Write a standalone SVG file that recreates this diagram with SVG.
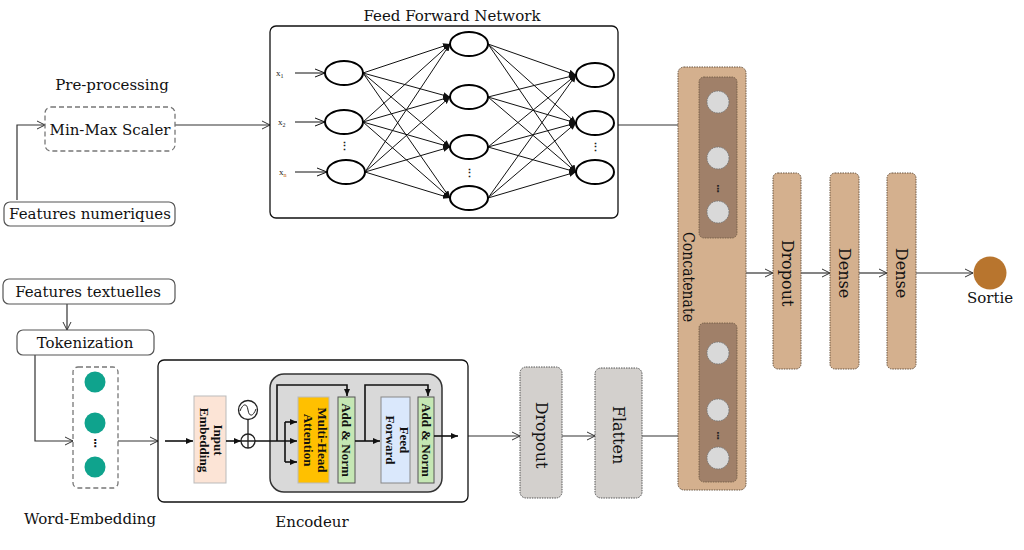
<svg xmlns="http://www.w3.org/2000/svg" width="1024" height="550" viewBox="0 0 1024 550">
<style>
.t{font-family:"DejaVu Serif","Liberation Serif",serif;fill:#111;}
.lbl{font-size:15px;}
.bx{fill:#fff;stroke:#555;stroke-width:1.2;}
.dash{fill:#fff;stroke:#777;stroke-width:1.3;stroke-dasharray:5 3;}
.ln{fill:none;stroke:#333;stroke-width:1.2;}
.nn{fill:none;stroke:#111;stroke-width:1;}
.neu{fill:#fff;stroke:#000;stroke-width:2;}
.bold{font-family:"Liberation Serif","Times New Roman",serif;font-weight:bold;font-size:13px;fill:#111;}
.tan{fill:#D4B08E;stroke:#6a5540;stroke-width:1;stroke-dasharray:1.5 1;}
.gray{fill:#D3D0CD;stroke:#555;stroke-width:1;stroke-dasharray:1.5 1;}
.inner{fill:#A08069;stroke:#6a5540;stroke-width:0.8;stroke-dasharray:1.5 1;}
.gc{fill:#D9D9D9;stroke:#777;stroke-width:1;stroke-dasharray:1.5 1;}
.teal{fill:#0FA38D;}
.enc{stroke:#111;stroke-width:1.6;fill:none;}
</style>
<defs>
<marker id="open" markerWidth="10" markerHeight="10" refX="9" refY="5" orient="auto" markerUnits="userSpaceOnUse">
<path d="M1,1 L9,5 L1,9" fill="none" stroke="#333" stroke-width="1"/>
</marker>
<marker id="fill" markerWidth="8" markerHeight="8" refX="7" refY="4" orient="auto" markerUnits="userSpaceOnUse">
<path d="M0,1 L7,4 L0,7 Z" fill="#111"/>
</marker>
<marker id="nnopen" markerWidth="12" markerHeight="10" refX="11" refY="5" orient="auto" markerUnits="userSpaceOnUse">
<path d="M1,1 L11,5 L1,9" fill="none" stroke="#111" stroke-width="1"/>
</marker>
</defs>
<rect width="1024" height="550" fill="#fff"/>

<g id="connectors">
<path class="ln" d="M17,200 V125 H45" marker-end="url(#open)"/>
<path class="ln" d="M175,125 H270" marker-end="url(#open)"/>
<path class="ln" d="M618,125 H699" marker-end="url(#open)"/>
<path class="ln" d="M67,304 V330" marker-end="url(#open)"/>
<path class="ln" d="M35,355 V441 H73" marker-end="url(#open)"/>
<path class="ln" d="M118,441 H158" marker-end="url(#open)"/>
<path class="ln" d="M468,436 H520" marker-end="url(#open)"/>
<path class="ln" d="M562,436 H595" marker-end="url(#open)"/>
<path class="ln" d="M642,436 H699" marker-end="url(#open)"/>
<path class="ln" d="M746,273 H773" marker-end="url(#open)"/>
<path class="ln" d="M801,273 H830" marker-end="url(#open)"/>
<path class="ln" d="M859,273 H887" marker-end="url(#open)"/>
<path class="ln" d="M916,273 H973" marker-end="url(#open)"/>
</g>

<g id="preprocessing">
<text class="t lbl" x="112" y="90" text-anchor="middle">Pre-processing</text>
<rect class="dash" x="45" y="107" width="130" height="44" rx="6"/>
<text class="t lbl" x="110" y="130" text-anchor="middle" dominant-baseline="central">Min-Max Scaler</text>
</g>

<g id="features-numeriques">
<rect class="bx" x="4" y="202" width="171" height="24" rx="6"/>
<text class="t lbl" x="90" y="214" text-anchor="middle" dominant-baseline="central">Features numeriques</text>
</g>

<g id="ffn">
<text class="t lbl" x="452" y="21" text-anchor="middle">Feed Forward Network</text>
<rect x="270" y="26" width="348" height="192" rx="6" fill="#fff" stroke="#111" stroke-width="1.3"/>
<g class="nn">
<path d="M295,73 H325" marker-end="url(#nnopen)"/>
<path d="M295,122 H325" marker-end="url(#nnopen)"/>
<path d="M295,172 H327" marker-end="url(#nnopen)"/>
<path d="M363,73 L450,44" marker-end="url(#fill)"/>
<path d="M363,73 L450,97" marker-end="url(#fill)"/>
<path d="M363,73 L450,147" marker-end="url(#fill)"/>
<path d="M363,73 L450,198" marker-end="url(#fill)"/>
<path d="M363,122 L450,44" marker-end="url(#fill)"/>
<path d="M363,122 L450,97" marker-end="url(#fill)"/>
<path d="M363,122 L450,147" marker-end="url(#fill)"/>
<path d="M363,122 L450,198" marker-end="url(#fill)"/>
<path d="M365,172 L450,44" marker-end="url(#fill)"/>
<path d="M365,172 L450,97" marker-end="url(#fill)"/>
<path d="M365,172 L450,147" marker-end="url(#fill)"/>
<path d="M365,172 L450,198" marker-end="url(#fill)"/>
<path d="M488,44 L576,75" marker-end="url(#fill)"/>
<path d="M488,44 L576,123" marker-end="url(#fill)"/>
<path d="M488,44 L576,172" marker-end="url(#fill)"/>
<path d="M488,97 L576,75" marker-end="url(#fill)"/>
<path d="M488,97 L576,123" marker-end="url(#fill)"/>
<path d="M488,97 L576,172" marker-end="url(#fill)"/>
<path d="M488,147 L576,75" marker-end="url(#fill)"/>
<path d="M488,147 L576,123" marker-end="url(#fill)"/>
<path d="M488,147 L576,172" marker-end="url(#fill)"/>
<path d="M488,198 L576,75" marker-end="url(#fill)"/>
<path d="M488,198 L576,123" marker-end="url(#fill)"/>
<path d="M488,198 L576,172" marker-end="url(#fill)"/>
</g>
<ellipse class="neu" cx="344" cy="73" rx="19" ry="12"/>
<ellipse class="neu" cx="344" cy="122" rx="19" ry="12"/>
<ellipse class="neu" cx="346" cy="172" rx="19" ry="12"/>
<ellipse class="neu" cx="469" cy="44" rx="19" ry="12"/>
<ellipse class="neu" cx="469" cy="97" rx="19" ry="12"/>
<ellipse class="neu" cx="469" cy="147" rx="19" ry="12"/>
<ellipse class="neu" cx="469" cy="198" rx="19" ry="12"/>
<ellipse class="neu" cx="595" cy="75" rx="19" ry="12"/>
<ellipse class="neu" cx="595" cy="123" rx="19" ry="12"/>
<ellipse class="neu" cx="595" cy="172" rx="19" ry="12"/>
<g font-family="Liberation Serif,serif" font-size="9" fill="#222">
<text x="276" y="76">x<tspan font-size="6" dy="2">1</tspan></text>
<text x="278" y="125">x<tspan font-size="6" dy="2">2</tspan></text>
<text x="279" y="175">x<tspan font-size="6" dy="2" fill="#c06000">n</tspan></text>
<text x="344" y="150" text-anchor="middle" font-size="11" font-weight="bold">⋮</text>
<text x="469" y="177" text-anchor="middle" font-size="11" font-weight="bold">⋮</text>
<text x="595" y="151" text-anchor="middle" font-size="11" font-weight="bold">⋮</text>
</g>
</g>

<g id="features-textuelles">
<rect class="bx" x="3" y="279" width="172" height="25" rx="6"/>
<text class="t lbl" x="88" y="291.5" text-anchor="middle" dominant-baseline="central">Features textuelles</text>
</g>

<g id="tokenization">
<rect class="bx" x="17" y="330" width="137" height="25" rx="6"/>
<text class="t lbl" x="85" y="342.5" text-anchor="middle" dominant-baseline="central">Tokenization</text>
</g>

<g id="word-embedding">
<rect class="dash" x="73" y="367" width="45" height="121" rx="5"/>
<circle class="teal" cx="95" cy="382" r="10.5"/>
<circle class="teal" cx="95" cy="423" r="10.5"/>
<circle class="teal" cx="95" cy="467" r="10.5"/>
<text x="95" y="447" text-anchor="middle" font-family="DejaVu Sans,sans-serif" font-size="11" font-weight="bold" fill="#111">⋮</text>
<text class="t lbl" x="90" y="524" text-anchor="middle">Word-Embedding</text>
</g>

<g id="encodeur">
<rect x="158" y="360" width="310" height="142" rx="6" fill="#fff" stroke="#111" stroke-width="1.3"/>
<text class="t lbl" x="312" y="527" text-anchor="middle">Encodeur</text>
<rect x="270" y="374" width="172" height="118" rx="14" fill="#D9D9D9" stroke="#333" stroke-width="1.5"/>
<path class="enc" d="M165,441 H193" marker-end="url(#fill)"/>
<rect x="194" y="396" width="32" height="87" fill="#FCE4D6" stroke="#bbb" stroke-width="1"/>
<text class="bold" transform="translate(210,440) rotate(90)" text-anchor="middle"><tspan x="0" y="-4">Input</tspan><tspan x="0" y="10">Embedding</tspan></text>
<path class="enc" d="M226,441 H241" marker-end="url(#fill)"/>
<circle cx="248" cy="410" r="9.5" fill="#fff" stroke="#222" stroke-width="1.3"/>
<path d="M240,411 C243,403 247,403 248,410 C249,417 253,417 256,409" fill="none" stroke="#222" stroke-width="1"/>
<path d="M248,419.5 V434" stroke="#222" stroke-width="1.3"/>
<circle cx="248" cy="441" r="7" fill="#fff" stroke="#222" stroke-width="1.3"/>
<path d="M241,441 H255 M248,434 V448" stroke="#222" stroke-width="1.3"/>
<path class="enc" d="M255,441 H297" marker-end="url(#fill)"/>
<path class="enc" d="M285,422 V462"/>
<path class="enc" d="M285,422 H297" marker-end="url(#fill)"/>
<path class="enc" d="M285,462 H297" marker-end="url(#fill)"/>
<path class="enc" d="M277,441 V385 H347 V396" marker-end="url(#fill)"/>
<rect x="298" y="397" width="31" height="86" fill="#FFC000" stroke="#bbb" stroke-width="1"/>
<text class="bold" transform="translate(313.5,440) rotate(90)" text-anchor="middle"><tspan x="0" y="-4">Multi-Head</tspan><tspan x="0" y="10">Attention</tspan></text>
<rect x="338" y="397" width="17" height="86" fill="#C5E7B4" stroke="#555" stroke-width="1"/>
<text class="bold" transform="translate(346.5,440) rotate(90)" text-anchor="middle" dominant-baseline="central">Add &amp; Norm</text>
<path class="enc" d="M355,441 H380" marker-end="url(#fill)"/>
<path class="enc" d="M365,441 V385 H428 V396" marker-end="url(#fill)"/>
<rect x="381" y="397" width="29" height="86" fill="#DAE8FC" stroke="#888" stroke-width="1"/>
<text class="bold" transform="translate(395.5,440) rotate(90)" text-anchor="middle"><tspan x="0" y="-4">Feed</tspan><tspan x="0" y="10">Forward</tspan></text>
<rect x="418" y="397" width="16" height="86" fill="#C5E7B4" stroke="#555" stroke-width="1"/>
<text class="bold" transform="translate(426,440) rotate(90)" text-anchor="middle" dominant-baseline="central">Add &amp; Norm</text>
<path class="enc" d="M434,436 H458" marker-end="url(#fill)"/>
</g>

<g id="dropout1">
<rect class="gray" x="520" y="367" width="42" height="131" rx="6"/>
<text class="t" font-size="16" transform="translate(541,435) rotate(90)" text-anchor="middle" dominant-baseline="central">Dropout</text>
</g>

<g id="flatten">
<rect class="gray" x="595" y="368" width="47" height="130" rx="6"/>
<text class="t" font-size="16" transform="translate(618.5,435) rotate(90)" text-anchor="middle" dominant-baseline="central">Flatten</text>
</g>

<g id="concatenate">
<rect class="tan" x="678" y="67" width="68" height="423" rx="6"/>
<rect class="inner" x="699" y="77" width="38" height="161" rx="5"/>
<circle class="gc" cx="718" cy="102" r="11"/>
<circle class="gc" cx="718" cy="158" r="11"/>
<circle class="gc" cx="718" cy="212" r="11"/>
<text x="718" y="192" text-anchor="middle" font-family="DejaVu Sans,sans-serif" font-size="10" font-weight="bold" fill="#222">⋮</text>
<rect class="inner" x="699" y="323" width="38" height="159" rx="5"/>
<circle class="gc" cx="718" cy="353" r="11"/>
<circle class="gc" cx="718" cy="410" r="11"/>
<circle class="gc" cx="718" cy="458" r="11"/>
<text x="718" y="439" text-anchor="middle" font-family="DejaVu Sans,sans-serif" font-size="10" font-weight="bold" fill="#222">⋮</text>
<text class="t" font-size="16" transform="translate(688,277) rotate(90)" text-anchor="middle" dominant-baseline="central" textLength="90" lengthAdjust="spacingAndGlyphs">Concatenate</text>
</g>

<g id="dropout2">
<rect class="tan" x="773" y="173" width="28" height="196" rx="5"/>
<text class="t" font-size="16" transform="translate(787,273) rotate(90)" text-anchor="middle" dominant-baseline="central">Dropout</text>
</g>

<g id="dense1">
<rect class="tan" x="830" y="173" width="29" height="196" rx="5"/>
<text class="t" font-size="16" transform="translate(844.5,273) rotate(90)" text-anchor="middle" dominant-baseline="central">Dense</text>
</g>

<g id="dense2">
<rect class="tan" x="887" y="173" width="29" height="196" rx="5"/>
<text class="t" font-size="16" transform="translate(901.5,273) rotate(90)" text-anchor="middle" dominant-baseline="central">Dense</text>
</g>

<g id="sortie">
<circle cx="990" cy="273" r="16.5" fill="#B8752E"/>
<text class="t lbl" x="990" y="303" text-anchor="middle">Sortie</text>
</g>
</svg>
